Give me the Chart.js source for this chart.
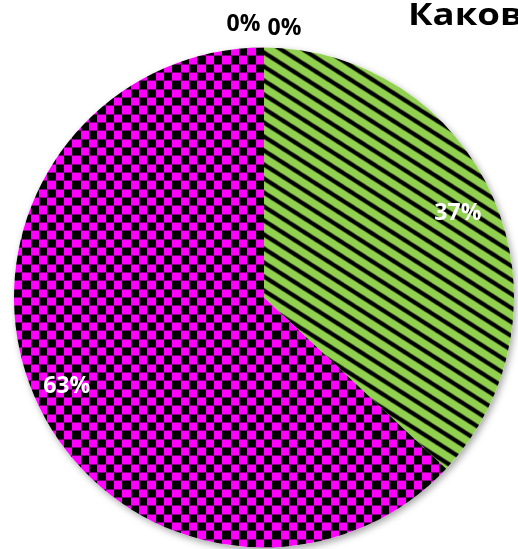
<!DOCTYPE html>
<html>
<head>
<meta charset="utf-8">
<script src="https://cdn.jsdelivr.net/npm/chart.js@4.4.1/dist/chart.umd.min.js"></script>
<style>
    html, body { margin: 0; padding: 0; background: #ffffff; overflow: hidden; }
    #wrap { width: 518px; height: 549px; position: relative; }
</style>
</head>
<body>
<div id="wrap"><canvas id="pieChart"></canvas></div>
<script>
// data
const categories = ['Вариант 1', 'Вариант 2', 'Вариант 3', 'Вариант 4'];
const shares = [37, 63, 0, 0];
const titleText = 'Каков';

const green = 'rgb(146, 208, 80)';
const magenta = 'rgb(255, 0, 255)';
const labelFont = 'bold 23px "Open Sans", "Noto Sans", sans-serif';

// checkerboard, 6 cells per 50px tile (cells ~8.3px)
function makeChecker() {
    const c = document.createElement('canvas');
    c.width = 50; c.height = 50;
    const g = c.getContext('2d');
    const edges = [0, 8, 17, 25, 33, 42, 50];
    for (let i = 0; i < 6; i++) {
        for (let j = 0; j < 6; j++) {
            g.fillStyle = (i + j) % 2 === 0 ? magenta : '#000000';
            g.fillRect(edges[i], edges[j], edges[i + 1] - edges[i], edges[j + 1] - edges[j]);
        }
    }
    return g.createPattern(c, 'repeat');
}

// downward diagonal stripes, black on green
function makeStripes() {
    const W = 22, H = 14;
    const c = document.createElement('canvas');
    c.width = W; c.height = H;
    const g = c.getContext('2d');
    g.fillStyle = green;
    g.fillRect(0, 0, W, H);
    g.strokeStyle = '#000000';
    g.lineWidth = 4.2;
    for (let k = -2; k <= 2; k++) {
        g.beginPath();
        g.moveTo(-W, -H + k * H);
        g.lineTo(2 * W, 2 * H + k * H);
        g.stroke();
    }
    return g.createPattern(c, 'repeat');
}

const checker = makeChecker();
const stripes = makeStripes();
const fills = [stripes, checker, magenta, green];

// soft shadow under the whole pie + anchor the patterns to the pie box
const pieShadow = {
    id: 'pieShadow',
    beforeDatasetsDraw(chart) {
        const arc = chart.getDatasetMeta(0).data[0];
        if (!arc) return;
        const r = arc.outerRadius;
        const m = new DOMMatrix().translate(arc.x - r, arc.y - r);
        checker.setTransform(m);
        stripes.setTransform(m);
        const ctx = chart.ctx;
        ctx.save();
        ctx.shadowColor = 'rgba(0, 0, 0, 0.35)';
        ctx.shadowBlur = 7;
        ctx.shadowOffsetX = 2;
        ctx.shadowOffsetY = 3;
        ctx.fillStyle = '#ffffff';
        ctx.beginPath();
        ctx.arc(arc.x, arc.y, r, 0, Math.PI * 2);
        ctx.fill();
        ctx.restore();
    }
};

// percentage labels and the clipped title
const sliceLabels = {
    id: 'sliceLabels',
    afterDatasetsDraw(chart) {
        const ctx = chart.ctx;
        const meta = chart.getDatasetMeta(0);
        const total = shares.reduce((a, b) => a + b, 0);
        const zeros = shares.map((v, i) => v === 0 ? i : -1).filter(i => i >= 0);
        ctx.save();
        ctx.font = labelFont;
        ctx.textAlign = 'center';
        ctx.textBaseline = 'middle';
        meta.data.forEach((arc, i) => {
            const v = shares[i];
            const txt = Math.round(v / total * 100) + '%';
            const mid = (arc.startAngle + arc.endAngle) / 2;
            const r = arc.outerRadius;
            if (v > 0) {
                const f = i === 1 ? 0.86 : 0.845;
                ctx.fillStyle = '#ffffff';
                ctx.fillText(txt, arc.x + Math.cos(mid) * r * f, arc.y + Math.sin(mid) * r * f + (i === 1 ? 4 : 0));
            } else {
                const k = zeros.indexOf(i);
                const dx = (k - (zeros.length - 1) / 2) * 41;
                ctx.fillStyle = '#000000';
                ctx.fillText(txt, arc.x + Math.cos(mid) * (r + 23) + dx, arc.y + Math.sin(mid) * (r + 23) + k * 4);
            }
        });
        // title runs off the right edge, as in the picture
        ctx.font = 'bold 30px "Open Sans", "Noto Sans", sans-serif';
        ctx.textAlign = 'left';
        ctx.textBaseline = 'alphabetic';
        ctx.fillStyle = '#000000';
        ctx.translate(408, 25);
        ctx.scale(1.22, 1);
        ctx.fillText(titleText, 0, 0);
        ctx.restore();
    }
};

const pieChart = new Chart(document.getElementById('pieChart'), {
    type: 'pie',
    data: {
        labels: categories,
        datasets: [{
            data: shares,
            backgroundColor: fills,
            borderWidth: 0
        }]
    },
    options: {
        responsive: true,
        maintainAspectRatio: false,
        animation: false,
        layout: { padding: { left: 14, right: 4, top: 47, bottom: 1 } },
        plugins: {
            legend: { display: false },
            title: { display: false },
            tooltip: { enabled: false }
        }
    },
    plugins: [pieShadow, sliceLabels]
});
</script>
</body>
</html>
